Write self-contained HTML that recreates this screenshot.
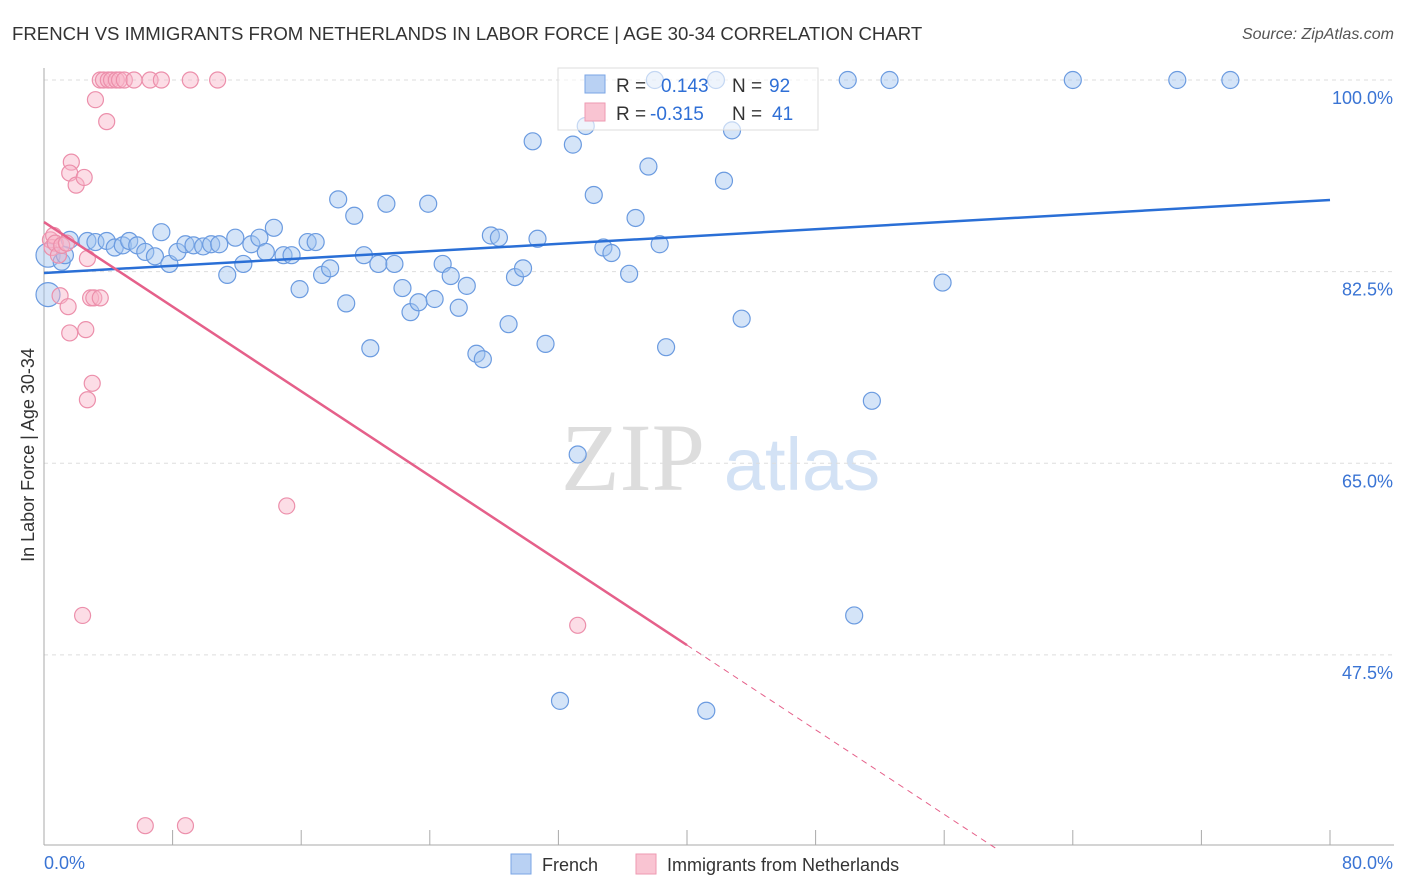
<!DOCTYPE html>
<html><head><meta charset="utf-8"><style>
body{margin:0;background:#fff;font-family:"Liberation Sans",sans-serif;}
svg{display:block}
</style></head><body>
<svg id="chart" width="1406" height="892">
<text x="12" y="40" font-size="18.6" fill="#333">FRENCH VS IMMIGRANTS FROM NETHERLANDS IN LABOR FORCE | AGE 30-34 CORRELATION CHART</text>
<text x="1394" y="39" font-size="16" fill="#555" font-style="italic" text-anchor="end">Source: ZipAtlas.com</text>
<g><text x="633" y="490" font-size="96" font-family="Liberation Serif,serif" fill="#ddd" text-anchor="middle">ZIP</text><text x="802" y="490" font-size="74" fill="#d3e2f5" text-anchor="middle">atlas</text></g>
<g id="grid"></g><g id="axes"></g><g id="marks"></g>
<text transform="translate(34,455) rotate(-90)" font-size="18" fill="#333" text-anchor="middle">In Labor Force | Age 30-34</text>
<g>
<rect x="558" y="68" width="260" height="62" fill="#fff" fill-opacity="0.6" stroke="#ddd"/>
<rect x="585" y="75" width="20" height="18" fill="#b9d1f3" stroke="#7aa5e6"/>
<rect x="585" y="103" width="20" height="18" fill="#f9c4d2" stroke="#ee9ab2"/>
<text x="616" y="92" font-size="19" fill="#333">R = </text><text x="661" y="92" font-size="19" fill="#2f6fd6">0.143</text>
<text x="732" y="92" font-size="19" fill="#333">N = </text><text x="769" y="92" font-size="19" fill="#2f6fd6">92</text>
<text x="616" y="120" font-size="19" fill="#333">R = </text><text x="650" y="120" font-size="19" fill="#2f6fd6">-0.315</text>
<text x="732" y="120" font-size="19" fill="#333">N = </text><text x="772" y="120" font-size="19" fill="#2f6fd6">41</text>
</g>
<g>
<rect x="511" y="854" width="20" height="20" fill="#b9d1f3" stroke="#7aa5e6"/>
<text x="542" y="871" font-size="18" fill="#333">French</text>
<rect x="636" y="854" width="20" height="20" fill="#f9c4d2" stroke="#ee9ab2"/>
<text x="667" y="871" font-size="18" fill="#333">Immigrants from Netherlands</text>
</g>
</svg>
<script>
const xTicks=[0,8,16,24,32,40,48,56,64,72,80];
const yTicks=[100,82.5,65,47.5];
const yTickLabels=["100.0%","82.5%","65.0%","47.5%"];
const frenchX=[0.25,0.25,1.6,1.1,1.3,2.7,3.2,3.9,4.4,4.9,5.3,5.8,6.3,6.9,7.3,7.8,8.3,8.8,9.3,9.9,10.4,10.9,11.4,11.9,12.4,12.9,13.4,13.8,14.3,14.9,15.4,15.9,16.4,16.9,17.3,17.8,18.3,18.8,19.3,19.9,20.3,20.8,21.3,21.8,22.3,22.8,23.3,23.9,24.3,24.8,25.3,25.8,26.3,26.9,27.3,27.8,28.3,28.9,29.3,29.8,30.4,30.7,31.2,32.1,32.9,33.2,33.7,34.2,34.8,35.3,36.4,36.8,37.6,38.0,38.3,38.7,41.2,41.8,42.3,42.8,43.4,50.0,50.4,51.5,52.6,55.9,64.0,70.5,73.8];
const frenchY=[80.4,84.0,85.4,83.4,84.0,85.3,85.2,85.3,84.7,84.9,85.3,84.9,84.3,83.9,86.1,83.2,84.3,85.0,84.9,84.8,85.0,85.0,82.2,85.6,83.2,85.0,85.6,84.3,86.5,84.0,84.0,80.9,85.2,85.2,82.2,82.8,89.1,79.6,87.6,84.0,75.5,83.2,88.7,83.2,81.0,78.8,79.7,88.7,80.0,83.2,82.1,79.2,81.2,75.0,74.5,85.8,85.6,77.7,82.0,82.8,94.4,85.5,75.9,43.3,94.1,65.8,95.8,89.5,84.7,84.2,82.3,87.4,92.1,100,85.0,75.6,42.4,100,90.8,95.4,78.2,100,51.1,70.7,100,81.5,100,100,100];
const nethX=[0.4,0.5,0.6,0.7,0.9,1.0,1.1,1.4,1.5,1.6,1.7,1.6,2.0,2.5,2.4,2.6,2.7,2.9,3.0,2.7,3.1,3.5,3.2,3.9,3.5,3.7,4.0,4.2,4.5,4.7,5.0,5.6,6.6,7.3,9.1,10.8,15.1,33.2,6.3,8.8];
const nethY=[85.4,84.7,85.8,85.1,84.0,80.3,84.9,85.1,79.3,76.9,92.5,91.5,90.4,91.1,51.1,77.2,83.7,80.1,72.3,70.8,80.1,80.1,98.2,96.2,100,100,100,100,100,100,100,100,100,100,100,100,61.1,50.2,31.9,31.9];
const frenchTrend=[82.37,89.04];
const nethTrend=[87.03,-0.966];
const NS="http://www.w3.org/2000/svg";
const xs=v=>44+v*16.075, ys=v=>80+(100-v)*10.95;
function mk(t,a,p){const e=document.createElementNS(NS,t);for(const k in a)e.setAttribute(k,a[k]);p.appendChild(e);return e;}
const grid=document.getElementById('grid'),axes=document.getElementById('axes'),marks=document.getElementById('marks');
yTicks.forEach((v,i)=>{const l=mk('line',{x1:44,x2:1394,y1:ys(v),y2:ys(v),stroke:'#ddd','stroke-dasharray':'4,4'},grid);


const t=mk('text',{x:1393,y:ys(v)+24,'font-size':18,fill:'#3a74d4','text-anchor':'end'},axes);t.textContent=yTickLabels[i];

});
mk('line',{x1:44,x2:44,y1:68,y2:845,stroke:'#aaa'},axes);
mk('line',{x1:44,x2:1394,y1:845,y2:845,stroke:'#aaa'},axes);
xTicks.forEach(v=>{const l=mk('line',{x1:xs(v),x2:xs(v),y1:830,y2:845,stroke:'#aaa'},axes);

});
const x0=mk('text',{x:44,y:869,'font-size':18,fill:'#3a74d4'},axes);x0.textContent='0.0%';


const x1=mk('text',{x:1393,y:869,'font-size':18,fill:'#3a74d4','text-anchor':'end'},axes);x1.textContent='80.0%';


frenchX.forEach((x,i)=>{const c=mk('circle',{cx:xs(x),cy:ys(frenchY[i]),r:i<2?12:8.5,fill:'rgba(160,195,240,0.45)',stroke:'#6b9be0','stroke-width':1.2},marks);

});
nethX.forEach((x,i)=>{const c=mk('circle',{cx:xs(x),cy:ys(nethY[i]),r:8,fill:'rgba(248,180,200,0.45)',stroke:'#ec8fab','stroke-width':1.2},marks);

});
const bt=mk('line',{x1:xs(0),y1:ys(frenchTrend[0]),x2:xs(80),y2:ys(frenchTrend[1]),stroke:'#2a6fd6','stroke-width':2.5},marks);


const pt=mk('line',{x1:xs(0),y1:ys(nethTrend[0]),x2:xs(40),y2:ys(nethTrend[0]+40*nethTrend[1]),stroke:'#e5608a','stroke-width':2.5},marks);


const pd=mk('line',{x1:xs(40),y1:ys(nethTrend[0]+40*nethTrend[1]),x2:xs(59.2),y2:ys(nethTrend[0]+59.2*nethTrend[1]),stroke:'#e5608a','stroke-width':1,'stroke-dasharray':'6,5'},marks);


</script>
</body></html>
